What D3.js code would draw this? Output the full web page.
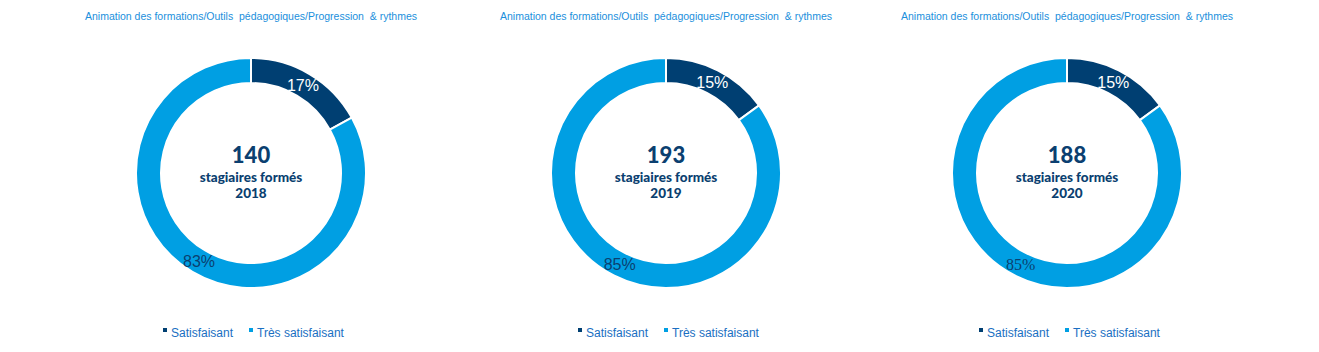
<!DOCTYPE html>
<html>
<head>
<meta charset="utf-8">
<script src="https://cdn.jsdelivr.net/npm/d3@7"></script>
<style>
  body { margin: 0; background: #fff; }
</style>
</head>
<body>
<div id="main"></div>
<script>
var years = ["2018", "2019", "2020"];
var trainees = [140, 193, 188];
var categories = ["Satisfaisant", "Très satisfaisant"];
var satisfaisant = [17, 15, 15];
var tresSatisfaisant = [83, 85, 85];
var title = "Animation des formations/Outils  pédagogiques/Progression  & rythmes";

var ctx = {
    w: 1319,
    h: 352,
    centers: [251, 666, 1067],
    cy: 173,
    outerR: 115,
    innerR: 90,
    colors: ["#003f72", "#009fe3"],
    labelColors: ["#ffffff", "#0b3f70"],
    navy: "#0b3f70",
    titleColor: "#1b8fdc",
};

var svg = d3.select("#main").append("svg")
    .attr("width", ctx.w)
    .attr("height", ctx.h);

var pie = d3.pie().sort(null).value((d) => d.value);
var arc = d3.arc().innerRadius(ctx.innerR).outerRadius(ctx.outerR);
var labelArc = d3.arc().innerRadius(102).outerRadius(102);

years.forEach(function (year, i) {
    var data = [
        { key: categories[0], value: satisfaisant[i] },
        { key: categories[1], value: tresSatisfaisant[i] },
    ];
    var cx = ctx.centers[i];

    svg.append("text")
        .attr("x", cx)
        .attr("y", 20)
        .attr("text-anchor", "middle")
        .attr("font-family", "Liberation Sans, Arial, sans-serif")
        .attr("font-size", 10.5)
        .attr("fill", ctx.titleColor)
        .attr("xml:space", "preserve")
        .text(title);

    var g = svg.append("g").attr("transform", `translate(${cx},${ctx.cy})`);

    var slices = pie(data);
    g.selectAll("path")
        .data(slices)
        .enter()
        .append("path")
        .attr("d", arc)
        .attr("fill", (d, j) => ctx.colors[j])
        .attr("stroke", "#fff")
        .attr("stroke-width", 2);

    g.selectAll("text.pct")
        .data(slices)
        .enter()
        .append("text")
        .attr("class", "pct")
        .attr("transform", (d) => `translate(${labelArc.centroid(d)})`)
        .attr("dy", "0.36em")
        .attr("text-anchor", "middle")
        .attr("font-family", (d, j) => (i == 2 && j == 1) ? "Liberation Serif, serif" : "Liberation Sans, Arial, sans-serif")
        .attr("font-size", 16)
        .attr("fill", (d, j) => ctx.labelColors[j])
        .text((d) => d.data.value + "%");

    g.append("text")
        .attr("y", -10)
        .attr("text-anchor", "middle")
        .attr("font-family", "Lato, sans-serif")
        .attr("font-weight", 900)
        .attr("font-size", 22)
        .attr("fill", ctx.navy)
        .text(trainees[i]);

    g.append("text")
        .attr("y", 9)
        .attr("text-anchor", "middle")
        .attr("font-family", "Lato, sans-serif")
        .attr("font-weight", 900)
        .attr("font-size", 13.5)
        .attr("fill", ctx.navy)
        .text("stagiaires formés");

    g.append("text")
        .attr("y", 25)
        .attr("text-anchor", "middle")
        .attr("font-family", "Lato, sans-serif")
        .attr("font-weight", 900)
        .attr("font-size", 13.5)
        .attr("fill", ctx.navy)
        .text(year);

    // legend
    var lg = svg.append("g").attr("transform", `translate(${cx - 88},333)`);
    var offsets = [0, 86];
    categories.forEach(function (c, j) {
        lg.append("rect")
            .attr("x", offsets[j])
            .attr("y", -5)
            .attr("width", 4)
            .attr("height", 4)
            .attr("fill", ctx.colors[j]);
        lg.append("text")
            .attr("x", offsets[j] + 8)
            .attr("y", 0)
            .attr("dy", "0.35em")
            .attr("font-family", "Liberation Sans, Arial, sans-serif")
            .attr("font-size", 12)
            .attr("fill", "#1a6fc2")
            .text(c);
    });
});
</script>
</body>
</html>
